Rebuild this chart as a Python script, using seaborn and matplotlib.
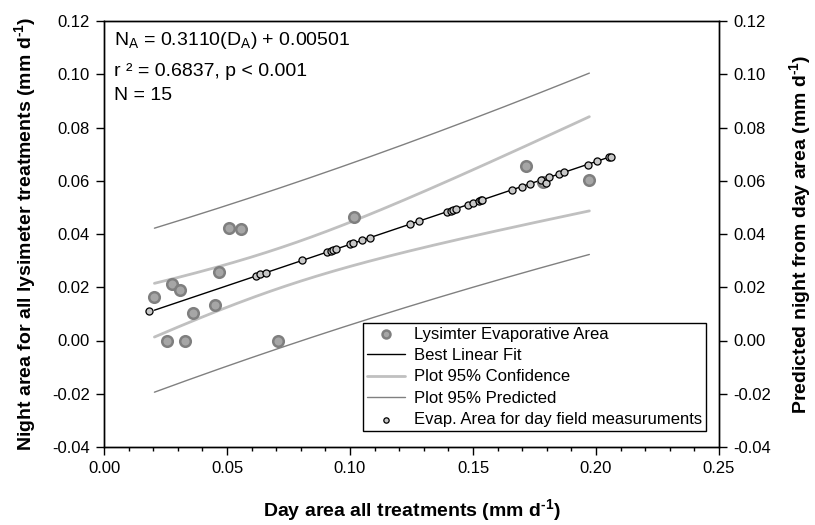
import numpy as np
import pandas as pd
import matplotlib
matplotlib.use("Agg")
import matplotlib.pyplot as plt
import seaborn as sns
from matplotlib.ticker import MultipleLocator, FormatStrFormatter

# Lysimeter measurements (day area vs night area, mm d-1)
lys_day = [0.0205, 0.0257, 0.0275, 0.0308, 0.0329, 0.0360, 0.0451, 0.0467,
           0.0509, 0.0557, 0.0706, 0.1017, 0.1714, 0.1786, 0.1973]
lys_night = [0.0162, 0.0000, 0.0213, 0.0190, 0.0000, 0.0105, 0.0134, 0.0256,
             0.0422, 0.0420, 0.0000, 0.0463, 0.0657, 0.0596, 0.0604]

# Field day-area measurements and their predicted night area
field_day = [0.0182, 0.0618, 0.0636, 0.0657, 0.0806, 0.0907, 0.0924, 0.0932,
             0.0942, 0.1001, 0.1014, 0.1047, 0.1080, 0.1245, 0.1279, 0.1393,
             0.1409, 0.1420, 0.1431, 0.1478, 0.1501, 0.1524, 0.1533, 0.1538,
             0.1657, 0.1699, 0.1733, 0.1778, 0.1795, 0.1809, 0.1848, 0.1869,
             0.1966, 0.2004, 0.2053, 0.2061]
field_night = [0.0110, 0.0243, 0.0248, 0.0254, 0.0301, 0.0332, 0.0337, 0.0340,
               0.0343, 0.0361, 0.0365, 0.0376, 0.0386, 0.0437, 0.0448, 0.0483,
               0.0488, 0.0492, 0.0495, 0.0510, 0.0517, 0.0524, 0.0527, 0.0528,
               0.0565, 0.0578, 0.0589, 0.0603, 0.0590, 0.0613, 0.0625, 0.0631,
               0.0661, 0.0673, 0.0688, 0.0691]

# Regression summary
slope = 0.3110
intercept = 0.00501
r2 = 0.6837
n_obs = 15
t_crit = 2.160  # t(0.975, df=13)

y_ticks = [-0.04, -0.02, 0.00, 0.02, 0.04, 0.06, 0.08, 0.10, 0.12]
x_ticks = [0.00, 0.05, 0.10, 0.15, 0.20, 0.25]

sns.set_style("ticks")
plt.rcParams["font.family"] = ["Liberation Sans", "DejaVu Sans"]
plt.rcParams["mathtext.fontset"] = "custom"
plt.rcParams["mathtext.rm"] = "Liberation Sans"
plt.rcParams["mathtext.it"] = "Liberation Sans"
plt.rcParams["mathtext.bf"] = "Liberation Sans:bold"
plt.rcParams["axes.unicode_minus"] = False
for key in ["text.color", "axes.labelcolor", "xtick.color", "ytick.color",
            "axes.edgecolor"]:
    plt.rcParams[key] = "black"

lx = np.array(lys_day)
ly = np.array(lys_night)
resid = ly - (slope * lx + intercept)
s = np.sqrt(np.sum(resid ** 2) / (len(lx) - 2))
sxx = np.sum((lx - lx.mean()) ** 2)

xb = np.linspace(lx.min(), lx.max(), 200)
yb = slope * xb + intercept
se_mean = s * np.sqrt(1 / len(lx) + (xb - lx.mean()) ** 2 / sxx)
se_pred = s * np.sqrt(1 + 1 / len(lx) + (xb - lx.mean()) ** 2 / sxx)
bands = pd.DataFrame({
    "x": xb,
    "conf_hi": yb + t_crit * se_mean,
    "conf_lo": yb - t_crit * se_mean,
    "pred_hi": yb + t_crit * se_pred,
    "pred_lo": yb - t_crit * se_pred,
})
xf = np.linspace(lx.min(), max(field_day), 50)
fit = pd.DataFrame({"x": xf, "y": slope * xf + intercept})
lys = pd.DataFrame({"x": lys_day, "y": lys_night})
fld = pd.DataFrame({"x": field_day, "y": field_night})

fig = plt.figure(figsize=(8.15, 5.25), dpi=100)
ax = fig.add_axes([104 / 815, 1 - 447 / 525, 615 / 815, 426 / 525])

sns.lineplot(data=bands, x="x", y="pred_hi", ax=ax, color="#808080", lw=1.0,
             label="Plot 95% Predicted", zorder=2)
sns.lineplot(data=bands, x="x", y="pred_lo", ax=ax, color="#808080", lw=1.0,
             zorder=2)
sns.lineplot(data=bands, x="x", y="conf_hi", ax=ax, color="#c0c0c0", lw=2.0,
             label="Plot 95% Confidence", zorder=2)
sns.lineplot(data=bands, x="x", y="conf_lo", ax=ax, color="#c0c0c0", lw=2.0,
             zorder=2)
sns.lineplot(data=fit, x="x", y="y", ax=ax, color="black", lw=1.0,
             label="Best Linear Fit", zorder=3)
sns.scatterplot(data=lys, x="x", y="y", ax=ax, s=58, color="#a6a6a6",
                edgecolor="#7f7f7f", linewidth=1.8,
                label="Lysimter Evaporative Area", zorder=4)
sns.scatterplot(data=fld, x="x", y="y", ax=ax, s=26, color="#c8c8c8",
                edgecolor="black", linewidth=0.9,
                label="Evap. Area for day field measuruments", zorder=5)

ax.set_xlim(0, 0.25)
ax.set_ylim(-0.04, 0.12)
ax.set_xticks(x_ticks)
ax.set_yticks(y_ticks)
ax.xaxis.set_minor_locator(MultipleLocator(0.01))
ax.xaxis.set_major_formatter(FormatStrFormatter("%.2f"))
ax.yaxis.set_major_formatter(FormatStrFormatter("%.2f"))
ax.tick_params(axis="both", which="major", direction="out", length=6,
               width=1, labelsize=12, pad=4)
ax.tick_params(axis="x", which="minor", direction="out", length=3, width=1)
for sp in ax.spines.values():
    sp.set_linewidth(1.0)

sup = "$^{\\mathbf{\u20101}}$"
ax.set_xlabel("Day area all treatments (mm d" + sup + ")",
              fontsize=14, fontweight="bold", labelpad=15)
ax.set_ylabel("Night area for all lysimeter treatments (mm d" + sup + ")",
              fontsize=14, fontweight="bold", labelpad=10)

ax2 = ax.twinx()
ax2.set_ylim(-0.04, 0.12)
ax2.set_yticks(y_ticks)
ax2.yaxis.set_major_formatter(FormatStrFormatter("%.2f"))
ax2.tick_params(axis="y", direction="out", length=6, width=1,
                labelsize=12, pad=4)
ax2.set_ylabel("Predicted night from day area (mm d" + sup + ")",
               fontsize=14, fontweight="bold", labelpad=12)
for sp in ax2.spines.values():
    sp.set_linewidth(1.0)

# Regression annotation, one line per statistic
ann_lines = [
    r"N$_\mathregular{A}$ = 0.3110(D$_\mathregular{A}$) + 0.00501",
    f"r ² = {r2:.4f}, p < 0.001",
    f"N = {n_obs}",
]
for txt, yb_ax in zip(ann_lines, [0.9437, 0.8709, 0.8146]):
    ax.text(0.016, yb_ax, txt, transform=ax.transAxes, ha="left",
            va="baseline", fontsize=14)

# Legend in the fixed order
h, l = ax.get_legend_handles_labels()
order = ["Lysimter Evaporative Area", "Best Linear Fit", "Plot 95% Confidence",
         "Plot 95% Predicted", "Evap. Area for day field measuruments"]
hd = dict(zip(l, h))
leg = ax.legend([hd[k] for k in order], order, loc="upper left",
                bbox_to_anchor=(0.421, 0.291), borderaxespad=0,
                fontsize=12.0, frameon=True, fancybox=False, framealpha=1,
                edgecolor="black", handlelength=2.3, handletextpad=0.55,
                labelspacing=0.38, borderpad=0.22, markerscale=0.75)
leg.get_frame().set_linewidth(1.0)

fig.savefig("out.png", dpi=100)
